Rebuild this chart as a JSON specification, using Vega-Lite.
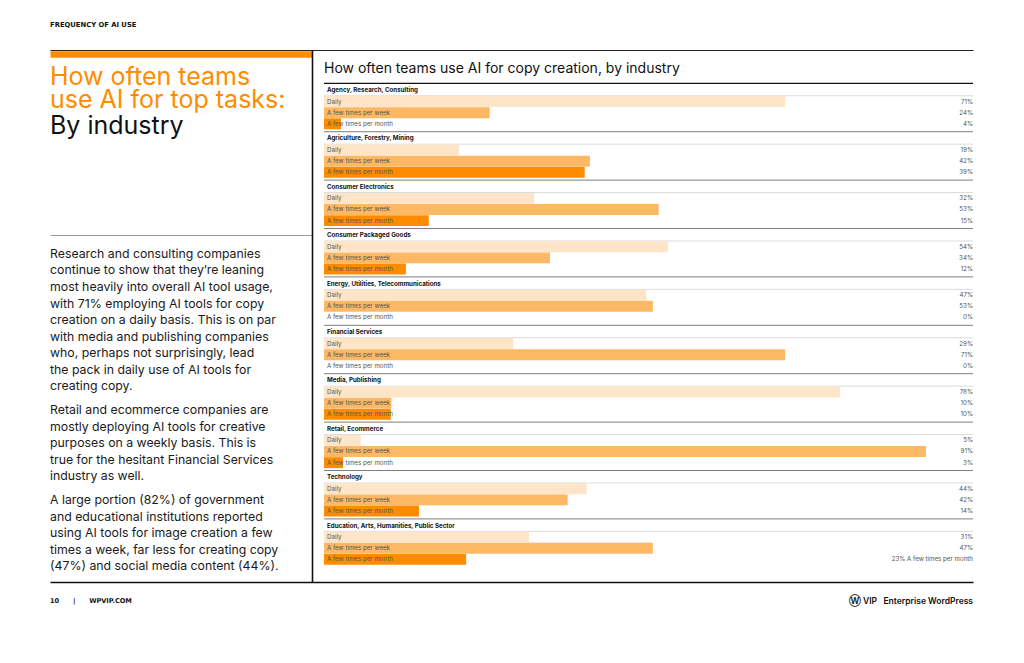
{
  "$schema": "https://vega.github.io/schema/vega-lite/v6.json",
  "background": "white",
  "padding": {"left": 50, "top": 22, "right": 51, "bottom": 0},
  "spacing": 0,
  "config": {
    "view": {"stroke": null},
    "font": "Inter",
    "axis": {"domain": false, "ticks": false, "labels": false, "grid": false, "minExtent": 0, "tickSize": 0, "labelPadding": 0}
  },
  "datasets": {
    "section": [{"section": "FREQUENCY OF AI USE"}],
    "heading": [
      {"part": "heading", "text": "How often teams\nuse AI for top tasks:"},
      {"part": "subheading", "text": "By industry"}
    ],
    "body": [
      {"para": "p1", "line": "Research and consulting companies"},
      {"para": "p1", "line": "continue to show that they’re leaning"},
      {"para": "p1", "line": "most heavily into overall AI tool usage,"},
      {"para": "p1", "line": "with 71% employing AI tools for copy"},
      {"para": "p1", "line": "creation on a daily basis. This is on par"},
      {"para": "p1", "line": "with media and publishing companies"},
      {"para": "p1", "line": "who, perhaps not surprisingly, lead"},
      {"para": "p1", "line": "the pack in daily use of AI tools for"},
      {"para": "p1", "line": "creating copy."},
      {"para": "p2", "line": "Retail and ecommerce companies are"},
      {"para": "p2", "line": "mostly deploying AI tools for creative"},
      {"para": "p2", "line": "purposes on a weekly basis. This is"},
      {"para": "p2", "line": "true for the hesitant Financial Services"},
      {"para": "p2", "line": "industry as well."},
      {"para": "p3", "line": "A large portion (82%) of government"},
      {"para": "p3", "line": "and educational institutions reported"},
      {"para": "p3", "line": "using AI tools for image creation a few"},
      {"para": "p3", "line": "times a week, far less for creating copy"},
      {"para": "p3", "line": "(47%) and social media content (44%)."}
    ],
    "industries": [
      {"industry": "Agency, Research, Consulting"},
      {"industry": "Agriculture, Forestry, Mining"},
      {"industry": "Consumer Electronics"},
      {"industry": "Consumer Packaged Goods"},
      {"industry": "Energy, Utilities, Telecommunications"},
      {"industry": "Financial Services"},
      {"industry": "Media, Publishing"},
      {"industry": "Retail, Ecommerce"},
      {"industry": "Technology"},
      {"industry": "Education, Arts, Humanities, Public Sector"}
    ],
    "bars": [
      {"industry": "Agency, Research, Consulting", "freq": "Daily", "value": 70.4, "label": "71%"},
      {"industry": "Agency, Research, Consulting", "freq": "A few times per week", "value": 25.3, "label": "24%"},
      {"industry": "Agency, Research, Consulting", "freq": "A few times per month", "value": 2.6, "label": "4%"},
      {"industry": "Agriculture, Forestry, Mining", "freq": "Daily", "value": 20.6, "label": "19%"},
      {"industry": "Agriculture, Forestry, Mining", "freq": "A few times per week", "value": 40.6, "label": "42%"},
      {"industry": "Agriculture, Forestry, Mining", "freq": "A few times per month", "value": 39.8, "label": "39%"},
      {"industry": "Consumer Electronics", "freq": "Daily", "value": 32.1, "label": "32%"},
      {"industry": "Consumer Electronics", "freq": "A few times per week", "value": 51.1, "label": "53%"},
      {"industry": "Consumer Electronics", "freq": "A few times per month", "value": 16.0, "label": "15%"},
      {"industry": "Consumer Packaged Goods", "freq": "Daily", "value": 52.5, "label": "54%"},
      {"industry": "Consumer Packaged Goods", "freq": "A few times per week", "value": 34.5, "label": "34%"},
      {"industry": "Consumer Packaged Goods", "freq": "A few times per month", "value": 12.5, "label": "12%"},
      {"industry": "Energy, Utilities, Telecommunications", "freq": "Daily", "value": 49.2, "label": "47%"},
      {"industry": "Energy, Utilities, Telecommunications", "freq": "A few times per week", "value": 50.2, "label": "53%"},
      {"industry": "Energy, Utilities, Telecommunications", "freq": "A few times per month", "value": 0, "label": "0%"},
      {"industry": "Financial Services", "freq": "Daily", "value": 28.9, "label": "29%"},
      {"industry": "Financial Services", "freq": "A few times per week", "value": 70.4, "label": "71%"},
      {"industry": "Financial Services", "freq": "A few times per month", "value": 0, "label": "0%"},
      {"industry": "Media, Publishing", "freq": "Daily", "value": 78.8, "label": "78%"},
      {"industry": "Media, Publishing", "freq": "A few times per week", "value": 10.3, "label": "10%"},
      {"industry": "Media, Publishing", "freq": "A few times per month", "value": 10.2, "label": "10%"},
      {"industry": "Retail, Ecommerce", "freq": "Daily", "value": 5.6, "label": "5%"},
      {"industry": "Retail, Ecommerce", "freq": "A few times per week", "value": 91.9, "label": "91%"},
      {"industry": "Retail, Ecommerce", "freq": "A few times per month", "value": 2.9, "label": "3%"},
      {"industry": "Technology", "freq": "Daily", "value": 40.1, "label": "44%"},
      {"industry": "Technology", "freq": "A few times per week", "value": 37.2, "label": "42%"},
      {"industry": "Technology", "freq": "A few times per month", "value": 14.5, "label": "14%"},
      {"industry": "Education, Arts, Humanities, Public Sector", "freq": "Daily", "value": 31.3, "label": "31%"},
      {"industry": "Education, Arts, Humanities, Public Sector", "freq": "A few times per week", "value": 50.2, "label": "47%"},
      {"industry": "Education, Arts, Humanities, Public Sector", "freq": "A few times per month", "value": 21.7, "label": "23% A few times per month"}
    ],
    "footer": [
      {"role": "page", "text": "10\u00a0\u00a0\u00a0\u00a0\u00a0\u00a0|\u00a0\u00a0\u00a0\u00a0\u00a0\u00a0WPVIP.COM"},
      {"role": "brand", "text": "Ⓦ\u00a0VIP\u00a0\u00a0\u00a0Enterprise WordPress"}
    ]
  },
  "vconcat": [
    {
      "width": 923,
      "height": 28,
      "data": {"name": "section"},
      "mark": {"type": "text", "align": "left", "baseline": "top", "fontSize": 6.8, "fontWeight": "bold", "font": "DejaVu Sans", "color": "#111111"},
      "encoding": {
        "text": {"field": "section"},
        "x": {"datum": 0, "scale": {"domain": [0, 1]}, "title": null,
              "axis": {"orient": "bottom", "domain": true, "domainColor": "#222222", "domainWidth": 1}},
        "y": {"datum": 1, "scale": {"domain": [0, 1]}, "title": null, "axis": null}
      }
    },
    {
      "spacing": 0,
      "hconcat": [
        {
          "spacing": 0,
          "bounds": "flush",
          "vconcat": [
            {
              "width": 262,
              "height": 185,
              "data": {"name": "heading"},
              "encoding": {
                "text": {"field": "text"},
                "x": {"datum": 0, "scale": {"domain": [0, 1]}, "title": null,
                      "axis": {"orient": "top", "offset": -4, "domain": true, "domainColor": "#ff8c00", "domainWidth": 6.3}},
                "y": {"field": "part", "type": "nominal", "sort": null, "bandPosition": 0, "title": null,
                      "scale": {"type": "band", "domain": ["heading", "subheading"], "paddingInner": 0, "paddingOuter": 0.888, "align": 0.175}, "axis": null}
              },
              "layer": [
                {
                  "transform": [{"filter": "datum.part === 'heading'"}],
                  "mark": {"type": "text", "align": "left", "baseline": "top", "fontSize": 25, "lineHeight": 22.7, "lineBreak": "\n", "color": "#ff8c00"}
                },
                {
                  "transform": [{"filter": "datum.part === 'subheading'"}],
                  "mark": {"type": "text", "align": "left", "baseline": "top", "fontSize": 25, "color": "#111111"}
                }
              ]
            },
            {
              "width": 262,
              "height": 347,
              "data": {"name": "body"},
              "encoding": {
                "text": {"field": "line"},
                "x": {"datum": 0, "scale": {"domain": [0, 1]}, "title": null,
                      "axis": {"orient": "top", "domain": true, "domainColor": "#9a9a9a", "domainWidth": 1}}
              },
              "layer": [
                {
                  "transform": [{"filter": "datum.para === 'p1'"}],
                  "mark": {"type": "text", "align": "left", "baseline": "middle", "fontSize": 12.3, "color": "#1a1a1a"},
                  "encoding": {
                    "y": {"field": "line", "type": "nominal", "sort": null, "bandPosition": 0.5, "title": null,
                          "scale": {"type": "band", "paddingInner": 0, "paddingOuter": 1.48, "align": 0.323}, "axis": null}
                  }
                },
                {
                  "transform": [{"filter": "datum.para === 'p2'"}],
                  "mark": {"type": "text", "align": "left", "baseline": "middle", "fontSize": 12.3, "color": "#1a1a1a"},
                  "encoding": {
                    "y": {"field": "line", "type": "nominal", "sort": null, "bandPosition": 0.95, "title": null,
                          "scale": {"type": "band", "paddingInner": 0, "paddingOuter": 1.48, "align": 0.323}, "axis": null}
                  }
                },
                {
                  "transform": [{"filter": "datum.para === 'p3'"}],
                  "mark": {"type": "text", "align": "left", "baseline": "middle", "fontSize": 12.3, "color": "#1a1a1a"},
                  "encoding": {
                    "y": {"field": "line", "type": "nominal", "sort": null, "bandPosition": 1.4, "title": null,
                          "scale": {"type": "band", "paddingInner": 0, "paddingOuter": 1.48, "align": 0.323}, "axis": null}
                  }
                }
              ]
            }
          ]
        },
        {
          "width": 661,
          "height": 532,
          "title": {"text": "How often teams use AI for copy creation, by industry", "anchor": "start", "frame": "group",
                    "orient": "top", "offset": -26, "dx": 12, "fontSize": 14, "fontWeight": "normal", "color": "#111111", "font": "Inter"},
          "layer": [
            {
              "data": {"name": "industries"},
              "mark": {"type": "rule"},
              "encoding": {
                "y": {"field": "industry", "type": "nominal", "sort": null, "bandPosition": 0, "title": null,
                      "scale": {"type": "band", "paddingInner": 0, "paddingOuter": 0.496, "align": 0.694},
                      "axis": {"orient": "left", "domain": true, "domainColor": "#111111", "domainWidth": 1.6}},
                "x": {"datum": 0, "axis": null, "scale": {"domain": [-1.83, 99.08], "nice": false, "zero": false}},
                "x2": {"datum": 99.08},
                "color": {"condition": {"test": "datum.industry === 'Agency, Research, Consulting'", "value": "#111111"}, "value": "#7d7d7d"},
                "strokeWidth": {"condition": {"test": "datum.industry === 'Agency, Research, Consulting'", "value": 1.2}, "value": 1}
              }
            },
            {
              "data": {"name": "industries"},
              "mark": {"type": "rule", "color": "#dcdcdc", "strokeWidth": 1},
              "encoding": {
                "y": {"field": "industry", "type": "nominal", "sort": null, "bandPosition": 0.257, "title": null},
                "x": {"datum": 0, "axis": null},
                "x2": {"datum": 99.08}
              }
            },
            {
              "data": {"name": "bars"},
              "transform": [{"filter": "datum.freq === 'Daily'"}],
              "mark": {"type": "rule", "strokeWidth": 10.9, "strokeCap": "butt"},
              "encoding": {
                "y": {"field": "industry", "type": "nominal", "sort": null, "bandPosition": 0.377, "title": null},
                "x": {"field": "value", "type": "quantitative", "title": null, "axis": null},
                "x2": {"datum": 0},
                "color": {"field": "freq", "type": "nominal",
                          "scale": {"domain": ["Daily", "A few times per week", "A few times per month"], "range": ["#fee5c8", "#fdb865", "#ff8c00"]},
                          "legend": null}
              }
            },
            {
              "data": {"name": "bars"},
              "transform": [{"filter": "datum.freq === 'A few times per week'"}],
              "mark": {"type": "rule", "strokeWidth": 10.9, "strokeCap": "butt"},
              "encoding": {
                "y": {"field": "industry", "type": "nominal", "sort": null, "bandPosition": 0.607, "title": null},
                "x": {"field": "value", "type": "quantitative", "title": null, "axis": null},
                "x2": {"datum": 0},
                "color": {"field": "freq", "type": "nominal", "legend": null}
              }
            },
            {
              "data": {"name": "bars"},
              "transform": [{"filter": "datum.freq === 'A few times per month'"}],
              "mark": {"type": "rule", "strokeWidth": 10.9, "strokeCap": "butt"},
              "encoding": {
                "y": {"field": "industry", "type": "nominal", "sort": null, "bandPosition": 0.837, "title": null},
                "x": {"field": "value", "type": "quantitative", "title": null, "axis": null},
                "x2": {"datum": 0},
                "color": {"field": "freq", "type": "nominal", "legend": null}
              }
            },
            {
              "data": {"name": "industries"},
              "mark": {"type": "text", "align": "left", "baseline": "middle", "dx": 3, "fontSize": 6.2, "fontWeight": "bold", "color": "#111111"},
              "encoding": {
                "text": {"field": "industry"},
                "y": {"field": "industry", "type": "nominal", "sort": null, "bandPosition": 0.138, "title": null},
                "x": {"datum": 0, "axis": null}
              }
            },
            {
              "data": {"name": "bars"},
              "transform": [{"filter": "datum.freq === 'Daily'"}],
              "mark": {"type": "text", "align": "left", "baseline": "middle", "dx": 3, "fontSize": 6.2, "color": "#555555"},
              "encoding": {
                "text": {"field": "freq"},
                "y": {"field": "industry", "type": "nominal", "sort": null, "bandPosition": 0.377, "title": null},
                "x": {"datum": 0, "axis": null}
              }
            },
            {
              "data": {"name": "bars"},
              "transform": [{"filter": "datum.freq === 'A few times per week'"}],
              "mark": {"type": "text", "align": "left", "baseline": "middle", "dx": 3, "fontSize": 6.2, "color": "#555555"},
              "encoding": {
                "text": {"field": "freq"},
                "y": {"field": "industry", "type": "nominal", "sort": null, "bandPosition": 0.607, "title": null},
                "x": {"datum": 0, "axis": null}
              }
            },
            {
              "data": {"name": "bars"},
              "transform": [{"filter": "datum.freq === 'A few times per month'"}],
              "mark": {"type": "text", "align": "left", "baseline": "middle", "dx": 3, "fontSize": 6.2, "color": "#555555"},
              "encoding": {
                "text": {"field": "freq"},
                "y": {"field": "industry", "type": "nominal", "sort": null, "bandPosition": 0.837, "title": null},
                "x": {"datum": 0, "axis": null}
              }
            },
            {
              "data": {"name": "bars"},
              "transform": [{"filter": "datum.freq === 'Daily'"}],
              "mark": {"type": "text", "align": "right", "baseline": "middle", "fontSize": 6.2, "color": "#555555"},
              "encoding": {
                "text": {"field": "label"},
                "y": {"field": "industry", "type": "nominal", "sort": null, "bandPosition": 0.377, "title": null},
                "x": {"datum": 99.08, "axis": null}
              }
            },
            {
              "data": {"name": "bars"},
              "transform": [{"filter": "datum.freq === 'A few times per week'"}],
              "mark": {"type": "text", "align": "right", "baseline": "middle", "fontSize": 6.2, "color": "#555555"},
              "encoding": {
                "text": {"field": "label"},
                "y": {"field": "industry", "type": "nominal", "sort": null, "bandPosition": 0.607, "title": null},
                "x": {"datum": 99.08, "axis": null}
              }
            },
            {
              "data": {"name": "bars"},
              "transform": [{"filter": "datum.freq === 'A few times per month'"}],
              "mark": {"type": "text", "align": "right", "baseline": "middle", "fontSize": 6.2, "color": "#555555"},
              "encoding": {
                "text": {"field": "label"},
                "y": {"field": "industry", "type": "nominal", "sort": null, "bandPosition": 0.837, "title": null},
                "x": {"datum": 99.08, "axis": null}
              }
            }
          ]
        }
      ]
    },
    {
      "width": 923,
      "height": 38,
      "data": {"name": "footer"},
      "layer": [
        {
          "transform": [{"filter": "datum.role === 'page'"}],
          "mark": {"type": "text", "align": "left", "baseline": "middle", "fontSize": 6.6, "fontWeight": "bold", "font": "DejaVu Sans", "color": "#111111"},
          "encoding": {
            "text": {"field": "text"},
            "x": {"datum": 0, "scale": {"domain": [0, 1]}, "title": null,
                  "axis": {"orient": "top", "domain": true, "domainColor": "#111111", "domainWidth": 1.5}}
          }
        },
        {
          "transform": [{"filter": "datum.role === 'brand'"}],
          "mark": {"type": "text", "align": "right", "baseline": "middle", "fontSize": 8.5, "fontWeight": 600, "color": "#111111"},
          "encoding": {
            "text": {"field": "text"},
            "x": {"datum": 1, "title": null}
          }
        }
      ]
    }
  ]
}
